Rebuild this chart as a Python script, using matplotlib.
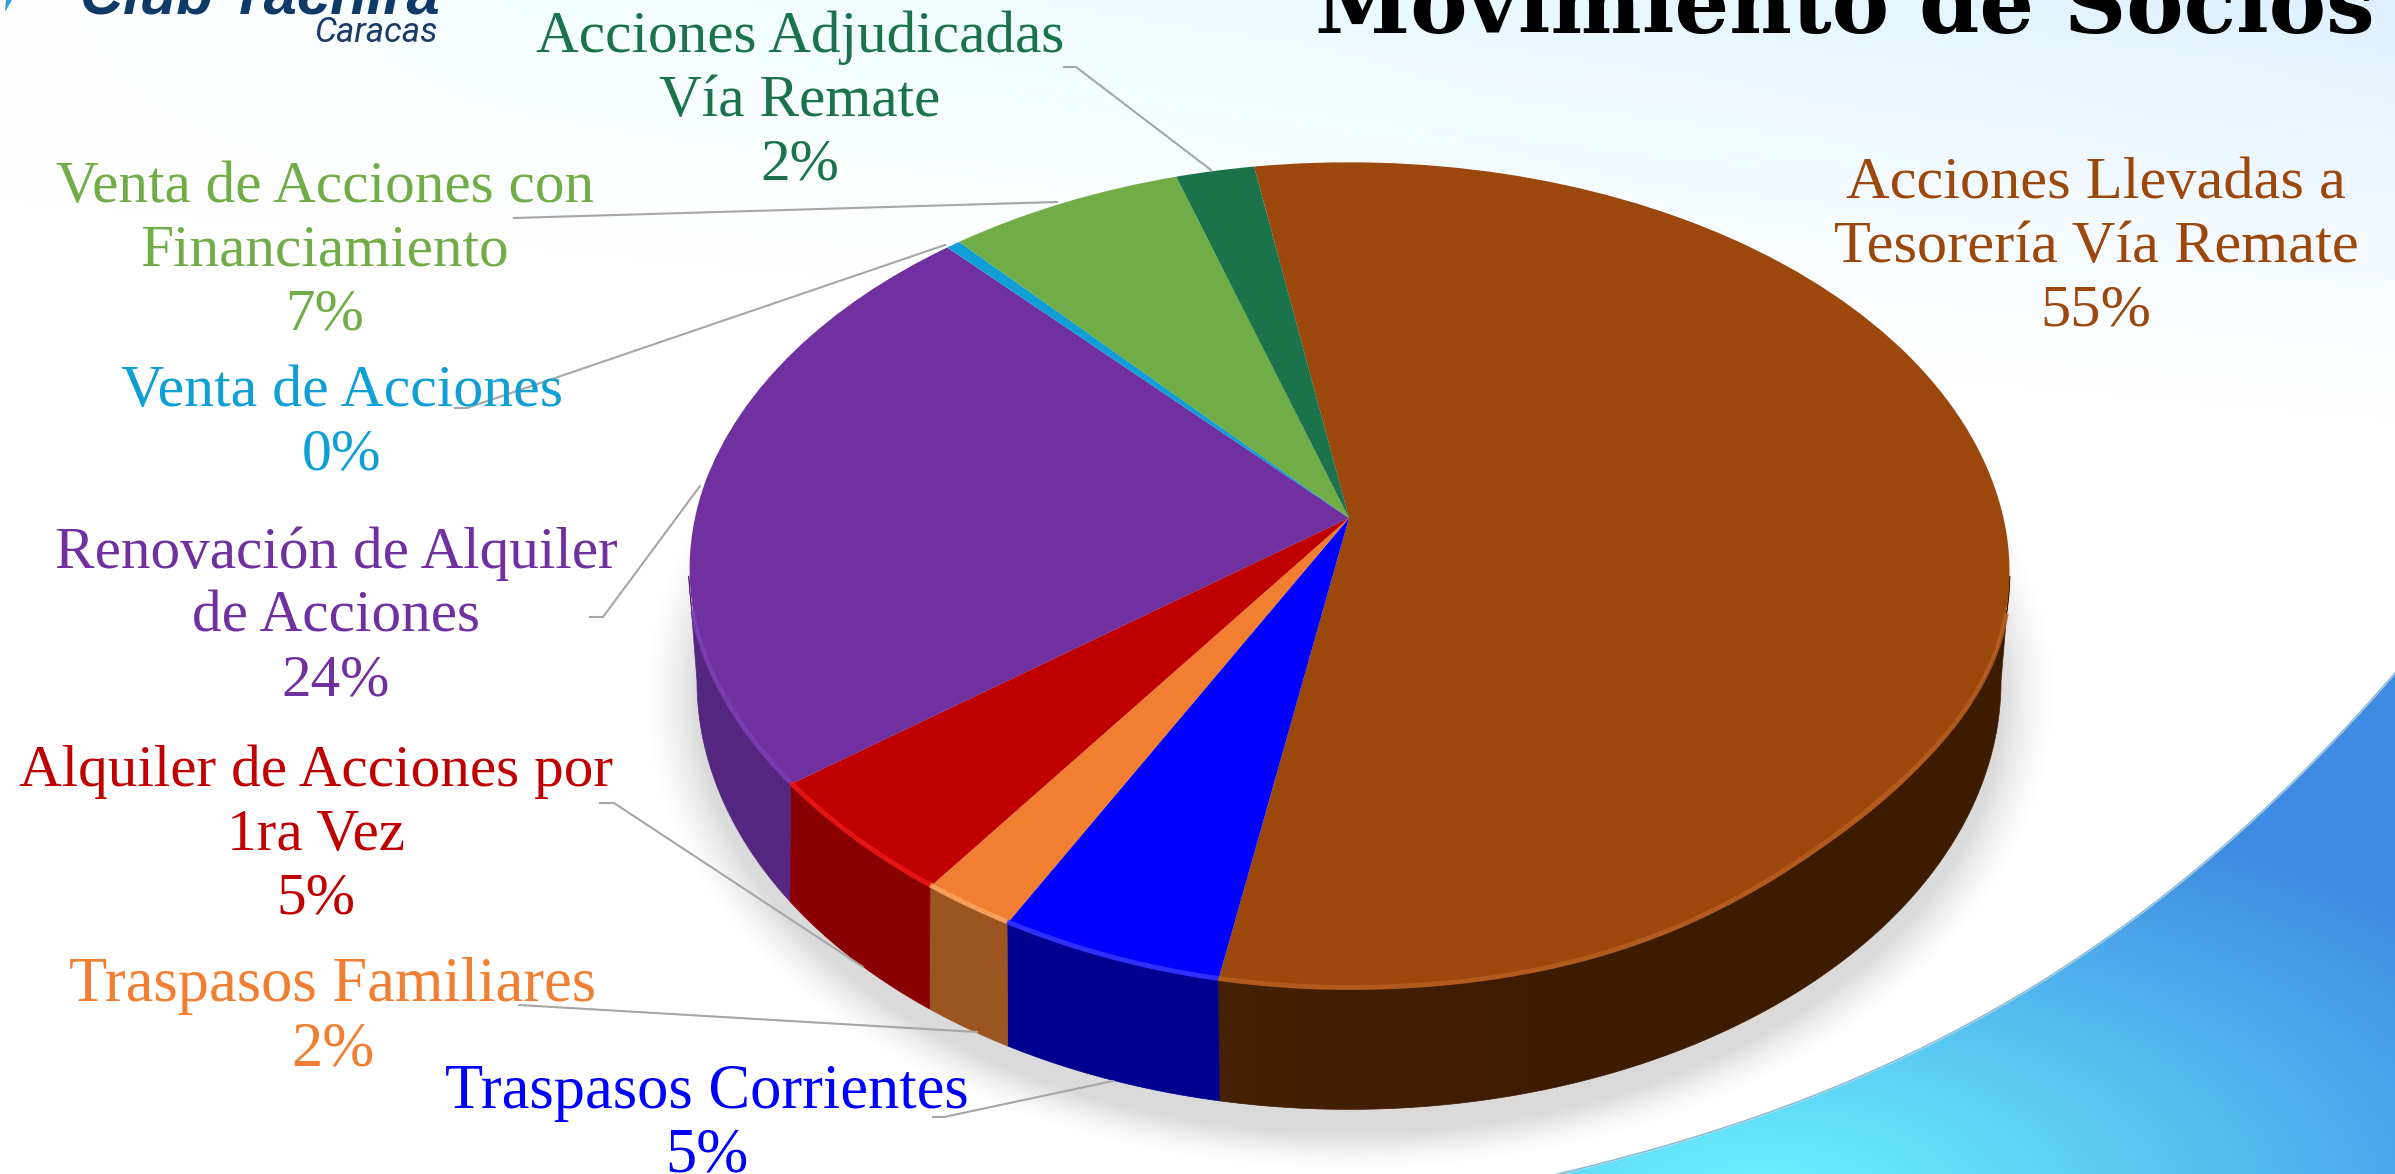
import matplotlib
matplotlib.use('Agg')
import matplotlib.pyplot as plt
import numpy as np
from matplotlib.transforms import Transform

W, H = 2395, 1174

# Slices, clockwise from the brown one
names = ['Acciones Llevadas a\nTesorería Vía Remate', 'Traspasos Corrientes', 'Traspasos Familiares',
         'Alquiler de Acciones por\n1ra Vez', 'Renovación de Alquiler\nde Acciones', 'Venta de Acciones',
         'Venta de Acciones con\nFinanciamiento', 'Acciones Adjudicadas\nVía Remate']
values = [55.4, 4.9, 2.1, 4.8, 23.6, 0.4, 6.6, 2.2]
colors = ['#9C470B', '#0000FF', '#F27E32', '#C00000', '#7030A0', '#0F9ED5', '#70AD47', '#1A734B']
wall_colors = ['#3D1B00', '#000090', '#9C5520', '#8A0000', '#55267F', '#0A6A90', '#4A7530', '#104A30']
rim_colors = ['#B85E22', '#3A3AFF', '#F9A765', '#F01818', '#7E3EB5', '#0F9ED5', '#70AD47', '#1A734B']

# label centre x, y of the first line (pixels)
label_x = [2096, 707, 333, 316, 336, 342, 325, 800]
label_y = [184, 1093, 986, 772, 554, 392, 188, 38]
label_size = [43.5, 45, 45, 42.7, 42.7, 43, 42.7, 42.7]

# leader lines (pixels)
leaders = [
    [(1064, 67), (1076, 67), (1211, 170)],
    [(514, 218), (1057, 202)],
    [(455, 408), (467, 408), (945, 245)],
    [(700, 486), (603, 617), (590, 617)],
    [(600, 803), (614, 803), (863, 967)],
    [(519, 1005), (977, 1032)],
    [(933, 1117), (944, 1117), (1113, 1081)],
]

# bevel=True pulls the lower rim of the top face in a little
TOP = dict(cx=1349, apex=518, a=654.5, b=405.5, k=0.14, bevel=True)
BOT = dict(cx=1349, apex=621, a=645.6, b=420.0, k=0.14, bevel=False)


def project(u, v, p):
    u = np.asarray(u, dtype=float)
    v = np.asarray(v, dtype=float)
    if p['bevel']:
        s2 = np.sin(2 * np.arctan2(u, v))
        dip = np.where(u > 0, 0.025 * s2 ** 4, 0.015 * s2 ** 2)
        s = 1 - dip * (v < 0)
        u, v = u * s, v * s
    w = 1 + p['k'] * v
    return p['cx'] + p['a'] * u / w, p['apex'] - p['b'] * v / w


class Perspective(Transform):
    input_dims = 2
    output_dims = 2

    def __init__(self, p):
        super().__init__()
        self.p = p

    def transform_non_affine(self, values):
        values = np.asarray(values, dtype=float)
        x, y = project(values[:, 0], values[:, 1], self.p)
        return np.column_stack([x, y])


fig = plt.figure(figsize=(W / 100, H / 100), dpi=100)
ax = fig.add_axes([0, 0, 1, 1])

wedges, _ = ax.pie(values, colors=colors, startangle=99.5, counterclock=False,
                   wedgeprops=dict(linewidth=0))
ax.set_aspect('auto')
ax.axis('off')
for w in wedges:
    w.set_transform(Perspective(TOP) + ax.transData)
    w.set_zorder(5)

# background
yy, xx = np.mgrid[0:H, 0:W]
bg = np.ones((H, W, 3))
fade = np.clip(1 - yy / (200 + 220 * xx / W), 0, 1) ** 1.2
side = np.clip((xx - 250) / (W - 250), 0, 1)
bg[..., 0] -= fade * (0.03 + 0.10 * side) * np.clip(xx / 500, 0, 1)
bg[..., 1] -= fade * (0.005 + 0.055 * side ** 2) * np.clip(xx / 500, 0, 1)
# swoosh lower right
edge_fit = np.polyfit([1558, 1886, 2153, 2395], [1174, 1065, 904, 673], 3)
edge = np.poly1d(edge_fit)(xx)
t = np.clip(np.hypot((xx - 1760) / 900, (yy - 1200) / 420), 0, 1)[..., None]
c1 = np.array([0x6C, 0xF5, 0xFF]) / 255
c2 = np.array([0x3F, 0x8A, 0xE2]) / 255
sw = c1 * (1 - t) + c2 * t
mask = np.clip(yy - edge, 0, 1)[..., None]
bg = bg * (1 - mask) + sw * mask
ax.imshow(bg, extent=(0, W, H, 0), aspect='auto', zorder=0, interpolation='bilinear')
ex = np.linspace(1540, W, 300)
ax.plot(ex, np.poly1d(edge_fit)(ex), color='#3C8FB8', lw=1.2, alpha=0.6, zorder=1)

# soft shadow under the pie
d = np.hypot((xx - 1349) / 655, (yy - 695) / 440)
shadow = np.zeros((H, W, 4))
shadow[..., :3] = 0.4
shadow[..., 3] = 0.24 * np.clip((1.08 - d) / 0.085, 0, 1) ** 1.5
ax.imshow(shadow, extent=(0, W, H, 0), aspect='auto', zorder=2)
ax.set_xlim(0, W)
ax.set_ylim(H, 0)

# side wall, only the front part of the rim shows
front_a = np.degrees(np.arccos(-TOP['k']))
front_b = 360 - front_a
edges = np.cumsum([0] + values) / sum(values) * 360 - 9.5
for i in range(len(values)):
    a1 = max(edges[i], front_a)
    a2 = min(edges[i + 1], front_b)
    if a2 <= a1:
        continue
    th = np.radians(np.linspace(a1, a2, 120))
    xt, yt = project(np.sin(th), np.cos(th), TOP)
    xb, yb = project(np.sin(th), np.cos(th), BOT)
    ax.fill(np.r_[xt, xb[::-1]], np.r_[yt, yb[::-1]], color=wall_colors[i], lw=0.5, zorder=3)
    # bevel on the top face
    keep = (np.degrees(th) > front_a + 5) & (np.degrees(th) < front_b - 5)
    ax.plot(xt[keep], yt[keep] - 2, color=rim_colors[i], lw=3.5, alpha=0.8, zorder=6,
            solid_capstyle='butt')

# wall of the big slice gets lighter towards the blue one
for a in range(166, 190, 3):
    th = np.radians([a, a + 3])
    xt, yt = project(np.sin(th), np.cos(th), TOP)
    xb, yb = project(np.sin(th), np.cos(th), BOT)
    ax.fill(np.r_[xt, xb[::-1]], np.r_[yt, yb[::-1]], color='#6A3A12', alpha=0.02 * (a - 160) / 3,
            lw=0, zorder=3.5)

# leader lines
for pts in leaders:
    ax.plot([q[0] for q in pts], [q[1] for q in pts], color='#A6A6A6', lw=1.5, zorder=7)

# labels
LINE = 64
for n, c, x, y, v, fs in zip(names, colors, label_x, label_y, values, label_size):
    lines = n.split('\n') + ['%d%%' % round(v)]
    for j, line in enumerate(lines):
        ax.text(x, y + j * LINE, line, color=c, fontsize=fs, family='Liberation Serif',
                ha='center', va='center', zorder=8)

# title and logo, cut off by the top edge
ax.text(2375, 33, 'Movimiento de Socios', color='black', fontsize=62, family='DejaVu Serif',
        weight='bold', ha='right', va='baseline', zorder=8)
ax.text(440, 13, 'Club Tachira', color='#0F3A68', fontsize=43, family='Liberation Sans',
        weight='bold', style='italic', ha='right', va='baseline', zorder=8)
ax.text(438, 42, 'Caracas', color='#1B3A68', fontsize=25, family=['Liberation Sans Narrow', 'Roboto'],
        style='italic', ha='right', va='baseline', zorder=8)
ax.fill([5, 6, 12], [12, 0, 0], color='#2A9FD8', lw=0, zorder=8)

fig.savefig('out.png', dpi=100)
